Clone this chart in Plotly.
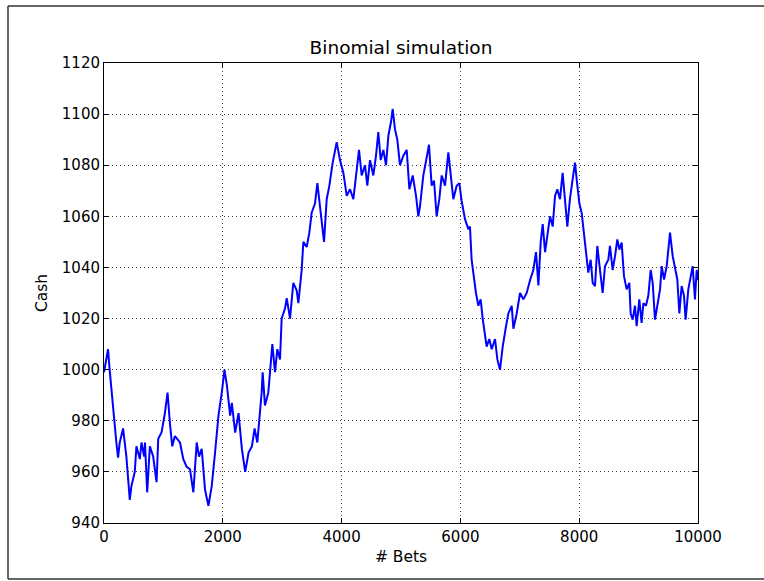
import plotly.graph_objects as go

bets = [0, 68, 95, 124, 169, 208, 237, 265, 321, 377, 434, 462, 518, 546, 603, 631, 676, 690, 727, 772,
        828, 885, 913, 969, 1025, 1070, 1110, 1149, 1194, 1279, 1335, 1392, 1448, 1504, 1561, 1600, 1645,
        1701, 1758, 1814, 1870, 1927, 1983, 2028, 2068, 2096, 2124, 2152, 2208, 2265, 2321, 2377, 2434,
        2490, 2535, 2581, 2615, 2654, 2671, 2710, 2766, 2794, 2834, 2879, 2918, 2963, 2991, 3048, 3076,
        3132, 3187, 3244, 3272, 3328, 3356, 3412, 3457, 3496, 3552, 3592, 3636, 3704, 3749, 3794, 3850,
        3917, 3973, 4030, 4086, 4142, 4198, 4254, 4293, 4338, 4394, 4433, 4478, 4534, 4579, 4618, 4658,
        4703, 4748, 4787, 4832, 4860, 4899, 4938, 4983, 5040, 5096, 5141, 5197, 5253, 5292, 5320, 5376,
        5432, 5471, 5516, 5556, 5600, 5645, 5685, 5741, 5797, 5836, 5881, 5937, 5982, 6021, 6077, 6133,
        6161, 6189, 6229, 6262, 6302, 6341, 6375, 6414, 6442, 6487, 6527, 6583, 6622, 6667, 6712, 6768,
        6807, 6864, 6892, 6948, 7004, 7060, 7116, 7172, 7228, 7273, 7313, 7352, 7386, 7425, 7464, 7509,
        7554, 7593, 7632, 7677, 7721, 7761, 7800, 7845, 7890, 7929, 7969, 8003, 8041, 8081, 8114, 8153,
        8193, 8227, 8266, 8305, 8350, 8395, 8434, 8490, 8518, 8563, 8603, 8642, 8676, 8715, 8754, 8799,
        8844, 8866, 8900, 8939, 8967, 9012, 9051, 9080, 9124, 9164, 9203, 9237, 9276, 9316, 9361, 9389,
        9428, 9473, 9501, 9529, 9574, 9613, 9652, 9686, 9725, 9764, 9792, 9837, 9877, 9910, 9949, 9978,
        10000]

cash = [999, 1008, 1000, 992, 982, 971.5, 965.6, 971.5, 977, 966, 949, 954.5, 960, 970, 965, 971.5, 966,
        971.5, 952, 970, 966, 956, 973, 975.4, 983, 991, 979, 970, 974, 971.5, 965, 962, 961, 952, 971.5,
        966, 969, 953, 946.7, 954.5, 967.6, 982, 991, 1000, 994, 988.5, 982, 987, 975.4, 983, 969, 960,
        967.6, 970, 977, 971.5, 980.6, 991, 999, 986, 991, 997.6, 1010, 999, 1008, 1004, 1020, 1024,
        1028, 1020, 1034, 1031, 1026, 1039, 1050, 1048, 1053.6, 1061.4, 1065, 1073, 1063, 1050, 1066.7,
        1072, 1081, 1089, 1082, 1077, 1068, 1070.6, 1066.7, 1078.4, 1086, 1076, 1080, 1072, 1082, 1076,
        1083.7, 1093, 1082, 1086, 1080, 1091.5, 1097, 1102, 1094, 1090, 1080, 1083.7, 1086, 1070.6, 1076,
        1068, 1060, 1064, 1076, 1083, 1088, 1072, 1074, 1060, 1066.7, 1076, 1072, 1085, 1077, 1066.7,
        1072, 1073, 1066, 1059, 1055, 1056, 1043, 1035, 1030, 1025, 1027.5, 1020, 1014, 1009, 1012, 1008,
        1012, 1004, 1000, 1009, 1017, 1022, 1025, 1016, 1022, 1030, 1027.5, 1030, 1035, 1039, 1046, 1033,
        1050, 1057, 1046, 1053.6, 1060, 1056, 1068, 1070.6, 1066.7, 1077, 1065, 1056, 1067, 1074.5, 1081,
        1072, 1065, 1061.4, 1052, 1044.4, 1038, 1043, 1034, 1032.7, 1048.4, 1039, 1030, 1040.5, 1043,
        1048.4, 1039, 1044.4, 1051, 1047, 1049.7, 1036.6, 1031.4, 1034, 1022, 1019.6, 1025, 1017, 1027.5,
        1018.3, 1026, 1025, 1029, 1039, 1034, 1019.6, 1025, 1031.4, 1040.5, 1035.3, 1040.5, 1047, 1053.6,
        1044.4, 1040.5, 1035.3, 1022, 1032.7, 1029, 1019.6, 1031.4, 1036.6, 1040.5, 1027.5, 1039, 1035]

x_ticks = [0, 2000, 4000, 6000, 8000, 10000]
y_ticks = [940, 960, 980, 1000, 1020, 1040, 1060, 1080, 1100, 1120]

font = "DejaVu Sans"

fig = go.Figure()
fig.add_trace(go.Scatter(x=bets, y=cash, mode="lines",
                         line=dict(color="#0000ff", width=2), showlegend=False))

axis_common = dict(showline=True, mirror="ticks", linecolor="black", linewidth=1,
                   ticks="inside", ticklen=5, tickcolor="black", tickwidth=1,
                   showgrid=True, gridcolor="#444444", gridwidth=1, griddash="1px,3px",
                   zeroline=False, tickfont=dict(family=font, size=15, color="black"))

fig.update_xaxes(range=[0, 10000], tickvals=x_ticks, ticktext=[str(v) for v in x_ticks],
                 title=dict(text="# Bets", font=dict(family=font, size=15.5, color="black"), standoff=6),
                 **axis_common)
fig.update_yaxes(range=[940, 1120], tickvals=y_ticks, ticktext=[str(v) for v in y_ticks],
                 title=dict(text="Cash", font=dict(family=font, size=15.5, color="black"), standoff=10),
                 **axis_common)

# outer figure frame (top, left, bottom)
L, R, T, B = 104, 698, 63, 523
W, H = R - L, B - T
def px(x):
    return (x - L) / W
def py(y):
    return (B - y) / H
frame = dict(color="#333333", width=1.5)
fig.add_shape(type="line", xref="paper", yref="paper", x0=px(8), x1=px(780), y0=py(6), y1=py(6), line=frame)
fig.add_shape(type="line", xref="paper", yref="paper", x0=px(8), x1=px(8), y0=py(6), y1=py(579), line=frame)
fig.add_shape(type="line", xref="paper", yref="paper", x0=px(8), x1=px(780), y0=py(579), y1=py(579), line=frame)

fig.update_layout(
    width=764, height=581,
    margin=dict(l=L, r=764 - R, t=T, b=581 - B),
    paper_bgcolor="white", plot_bgcolor="white",
    title=dict(text="Binomial simulation", x=0.5, xanchor="center", xref="paper",
               y=1 - 48 / 581, yanchor="middle",
               font=dict(family=font, size=18.5, color="black")),
)

fig.write_html("out.html")
